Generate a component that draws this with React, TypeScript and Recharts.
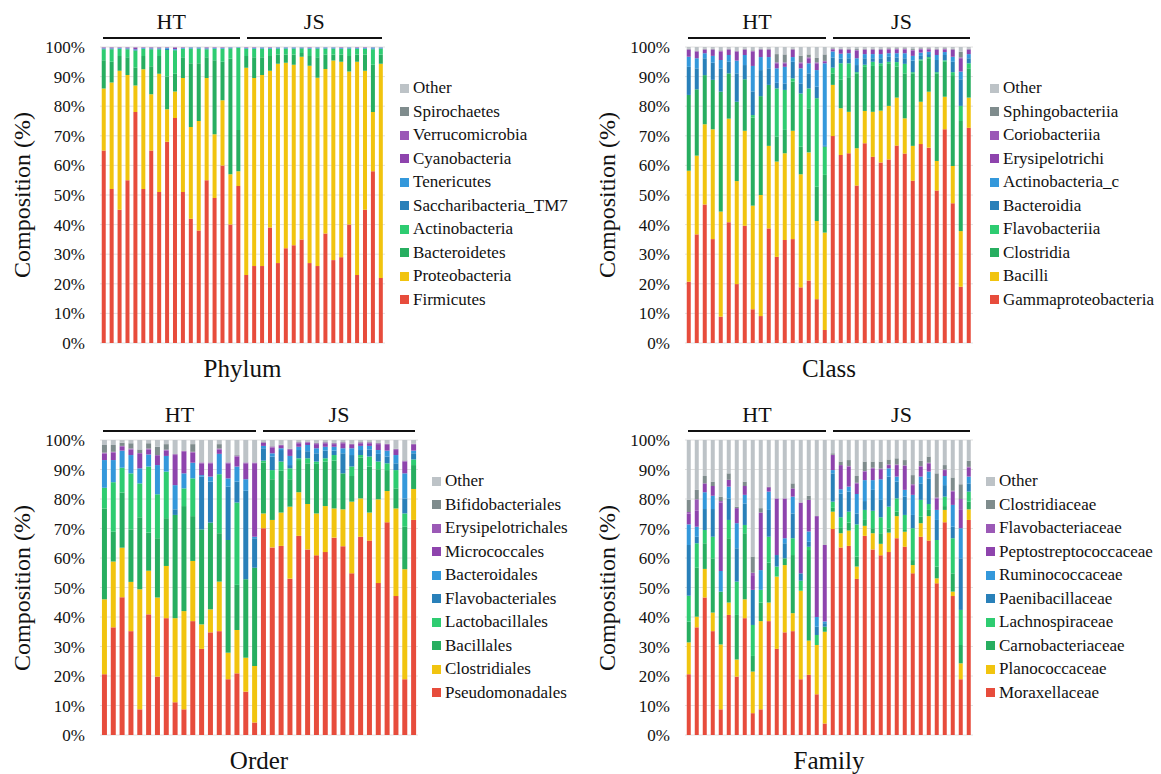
import React from "react";
import { BarChart, Bar, XAxis, YAxis, CartesianGrid } from "recharts";

// sample ids, 18 per site
const samples = [
  "HT1", "HT2", "HT3", "HT4", "HT5", "HT6", "HT7", "HT8", "HT9", "HT10", "HT11", "HT12", "HT13", "HT14", "HT15", "HT16", "HT17", "HT18",
  "JS1", "JS2", "JS3", "JS4", "JS5", "JS6", "JS7", "JS8", "JS9", "JS10", "JS11", "JS12", "JS13", "JS14", "JS15", "JS16", "JS17", "JS18",
];

const palette = ["#E74C3C", "#F1C40F", "#27AE60", "#2ECC71", "#2980B9", "#3498DB", "#8E44AD", "#9B59B6", "#7F8C8D", "#BDC3C7"];

// ---- Phylum: upper edge (%) of each layer, bottom to top
const phylumNames = ["Firmicutes", "Proteobacteria", "Bacteroidetes", "Actinobacteria", "Saccharibacteria_TM7", "Tenericutes", "Cyanobacteria", "Verrucomicrobia", "Spirochaetes", "Other"];
const phyFirmicutes = [65, 52, 45, 55, 78, 52, 65, 51, 68, 76, 51, 42, 38, 55, 49, 60, 40, 53, 23, 26, 26, 39, 27, 32, 33, 35, 27, 26, 37, 28, 29, 40, 23, 45, 58, 22];
const phyProteobacteria = [86, 88, 92, 90.5, 87, 92.5, 84, 91, 79, 85, 89.5, 73, 75, 89.5, 70.5, 82, 57, 58, 93, 89.5, 90.5, 92, 94.3, 94.7, 94, 96.7, 93.7, 89.6, 92.6, 95.4, 95, 91.7, 95, 92, 78, 94.3];
const phyBacteroidetes = [95.5, 95, 97, 96.5, 93, 97, 93.5, 97, 90, 91, 96.5, 94.5, 94.5, 96.5, 95.5, 95, 96, 72, 97, 96.5, 96.5, 97, 97.5, 97.5, 97.5, 98, 97, 96.5, 97.5, 97.5, 97.5, 97, 97.5, 97.5, 94, 97.5];
const phyActinobacteria = [99.2, 99.2, 99.3, 99.2, 98.8, 99.3, 99.2, 99.2, 99.0, 98.9, 99.3, 99.4, 99.4, 99.2, 99.3, 99.3, 99.5, 99.7, 99.3, 99.3, 99.4, 99.3, 99.4, 99.4, 99.4, 99.5, 99.3, 99.4, 99.4, 99.4, 99.3, 99.4, 99.3, 99.3, 99.2, 99.4];
const phySaccharibacteria = [99.4, 99.4, 99.5, 99.4, 99.0, 99.5, 99.4, 99.4, 99.4, 99.1, 99.5, 99.6, 99.6, 99.4, 99.5, 99.5, 99.7, 99.8, 99.5, 99.5, 99.6, 99.5, 99.6, 99.6, 99.6, 99.7, 99.5, 99.6, 99.6, 99.6, 99.5, 99.6, 99.5, 99.5, 99.5, 99.6];
const phyTenericutes = [99.6, 99.6, 99.7, 99.6, 99.2, 99.7, 99.6, 99.6, 99.7, 99.3, 99.7, 99.8, 99.8, 99.6, 99.7, 99.7, 99.8, 99.9, 99.7, 99.7, 99.8, 99.7, 99.8, 99.8, 99.8, 99.8, 99.7, 99.8, 99.8, 99.8, 99.7, 99.8, 99.7, 99.7, 99.8, 99.8];
const phyCyanobacteria = [99.8, 99.8, 99.8, 99.8, 99.8, 99.8, 99.8, 99.8, 99.8, 99.8, 99.8, 99.9, 99.9, 99.8, 99.8, 99.8, 99.9, 99.9, 99.85, 99.85, 99.85, 99.85, 99.85, 99.85, 99.85, 99.85, 99.85, 99.85, 99.85, 99.85, 99.85, 99.85, 99.85, 99.85, 99.9, 99.85];
const phyVerrucomicrobia = [99.9, 99.9, 99.9, 99.9, 99.9, 99.9, 99.9, 99.9, 99.9, 99.9, 99.9, 99.9, 99.9, 99.9, 99.9, 99.9, 99.9, 99.9, 99.9, 99.9, 99.9, 99.9, 99.9, 99.9, 99.9, 99.9, 99.9, 99.9, 99.9, 99.9, 99.9, 99.9, 99.9, 99.9, 99.9, 99.9];
const phySpirochaetes = [99.95, 99.95, 99.95, 99.95, 99.95, 99.95, 99.95, 99.95, 99.95, 99.95, 99.95, 99.95, 99.95, 99.95, 99.95, 99.95, 99.95, 99.95, 99.95, 99.95, 99.95, 99.95, 99.95, 99.95, 99.95, 99.95, 99.95, 99.95, 99.95, 99.95, 99.95, 99.95, 99.95, 99.95, 99.95, 99.95];

// ---- Class
const classNames = ["Gammaproteobacteria", "Bacilli", "Clostridia", "Flavobacteriia", "Bacteroidia", "Actinobacteria_c", "Erysipelotrichi", "Coriobacteriia", "Sphingobacteriia", "Other"];
const clsGamma = [20.7, 36.7, 46.8, 35.1, 8.9, 40.8, 19.9, 39.6, 11.4, 9.1, 38.7, 29.1, 34.8, 35.1, 18.8, 21.1, 14.8, 4.4, 69.9, 63.5, 64.1, 53.2, 67.5, 62.9, 61.0, 62.0, 66.7, 64.0, 54.8, 67.2, 66.0, 51.5, 72.2, 47.2, 19.0, 72.7];
const clsBacilli = [58.2, 63.3, 73.9, 72.2, 44.4, 75.8, 54.7, 71.7, 46.4, 50.0, 66.6, 61.3, 64.1, 71.7, 57.0, 64.4, 41.2, 37.3, 87.2, 79.3, 78.1, 65.8, 78.4, 78.1, 78.5, 80.1, 82.9, 75.9, 66.6, 81.5, 84.9, 61.5, 83.2, 59.8, 37.8, 82.9];
const clsClostridia = [83.8, 85.7, 90.5, 88.9, 84.9, 91.1, 81.5, 89.1, 76.2, 83.4, 87.2, 69.7, 72.0, 88.3, 66.3, 79.3, 52.8, 56.8, 91.1, 88.9, 89.8, 91.1, 93.3, 93.6, 93.6, 94.3, 93.4, 91.1, 91.1, 95.4, 96.2, 91.1, 95.0, 90.5, 75.0, 92.8];
const clsFlavobacteriia = [83.8, 85.7, 90.5, 88.9, 84.9, 91.1, 81.5, 89.1, 77.0, 83.4, 87.2, 86.0, 85.5, 89.4, 84.3, 86.0, 82.7, 66.3, 93.0, 94.5, 94.5, 91.5, 94.0, 95.0, 94.5, 95.0, 94.9, 94.3, 91.5, 95.8, 96.6, 91.5, 95.5, 91.5, 80.1, 94.5];
const clsBacteroidia = [93.3, 92.8, 96.2, 94.7, 92.8, 95.0, 91.1, 93.9, 85.0, 92.2, 92.8, 87.9, 87.7, 95.0, 87.7, 91.1, 86.6, 66.6, 96.5, 96.0, 96.2, 93.9, 96.2, 96.2, 96.2, 96.7, 96.5, 96.2, 95.4, 97.0, 97.6, 95.6, 97.3, 95.0, 89.1, 96.2];
const clsActinobacteria = [96.7, 96.2, 97.9, 97.0, 95.6, 97.3, 95.4, 97.3, 93.6, 96.6, 96.6, 92.8, 93.3, 96.6, 92.8, 94.5, 92.2, 94.5, 98.5, 97.7, 97.9, 96.2, 97.6, 97.6, 97.6, 97.9, 97.9, 97.9, 97.0, 98.1, 98.4, 97.3, 98.3, 96.7, 91.7, 97.6];
const clsErysipelotrichi = [99.0, 98.4, 99.0, 99.0, 98.5, 99.0, 98.4, 99.0, 98.5, 99.0, 99.0, 94.5, 94.5, 99.0, 94.5, 96.2, 94.5, 95.0, 99.2, 99.0, 99.0, 98.8, 99.0, 99.0, 99.0, 99.2, 99.2, 99.2, 98.8, 99.2, 99.2, 99.0, 99.2, 99.0, 96.2, 99.0];
const clsCoriobacteriia = [99.2, 98.6, 99.2, 99.2, 98.7, 99.2, 98.6, 99.2, 98.7, 99.2, 99.2, 94.8, 94.8, 99.2, 94.8, 96.5, 94.8, 95.3, 99.4, 99.2, 99.2, 99.0, 99.2, 99.2, 99.2, 99.4, 99.4, 99.4, 99.0, 99.4, 99.4, 99.2, 99.4, 99.2, 96.5, 99.2];
const clsSphingobacteriia = [99.4, 98.8, 99.4, 99.4, 98.9, 99.4, 98.8, 99.4, 98.9, 99.4, 99.4, 97.6, 97.5, 99.4, 97.1, 97.5, 96.3, 97.5, 99.6, 99.4, 99.4, 99.3, 99.4, 99.4, 99.4, 99.6, 99.6, 99.6, 99.3, 99.6, 99.6, 99.4, 99.6, 99.4, 98.4, 99.4];

// ---- Order
const orderNames = ["Pseudomonadales", "Clostridiales", "Bacillales", "Lactobacillales", "Flavobacteriales", "Bacteroidales", "Micrococcales", "Erysipelotrichales", "Bifidobacteriales", "Other"];
const ordPseudomonadales = [20.6, 36.5, 46.7, 35.2, 8.7, 40.9, 19.8, 39.6, 11.1, 8.7, 38.6, 29.2, 34.8, 35.2, 18.9, 20.9, 14.7, 4.2, 70.1, 63.6, 64.1, 53.0, 67.5, 62.9, 60.9, 62.0, 66.9, 64.0, 54.8, 67.2, 65.9, 51.5, 72.1, 47.1, 18.9, 72.9];
const ordClostridiales = [46.0, 58.8, 63.5, 51.9, 49.4, 55.7, 46.6, 57.3, 39.6, 42.0, 59.0, 37.5, 42.6, 52.0, 27.9, 35.6, 26.2, 23.4, 75.1, 72.9, 75.4, 77.4, 82.3, 78.3, 75.1, 77.6, 76.8, 76.5, 79.1, 80.2, 75.4, 79.9, 82.7, 76.8, 56.2, 83.4];
const ordBacillales = [76.8, 68.9, 82.2, 69.7, 73.8, 68.6, 66.7, 73.5, 74.6, 77.6, 74.2, 69.7, 72.0, 68.4, 66.1, 50.9, 52.8, 56.7, 92.4, 86.7, 89.6, 86.7, 93.2, 92.1, 91.9, 92.7, 93.0, 88.7, 87.8, 94.1, 91.0, 90.1, 89.8, 83.6, 70.6, 91.5];
const ordLactobacillales = [83.8, 85.7, 90.6, 88.7, 85.3, 91.0, 81.6, 89.3, 74.6, 83.6, 87.0, 69.7, 72.0, 88.4, 66.1, 78.8, 52.8, 56.7, 93.0, 89.8, 92.7, 90.4, 93.8, 93.8, 92.7, 93.8, 94.9, 88.7, 91.0, 94.9, 94.4, 92.7, 92.1, 89.8, 75.1, 93.4];
const ordFlavobacteriales = [83.8, 85.7, 90.6, 88.7, 85.3, 91.0, 81.6, 89.3, 76.5, 83.6, 87.0, 87.6, 85.9, 88.4, 84.2, 85.9, 82.8, 66.7, 97.2, 94.4, 96.6, 91.5, 96.6, 96.2, 95.5, 96.4, 96.4, 95.5, 94.9, 96.6, 96.8, 95.3, 94.4, 92.1, 80.2, 95.5];
const ordBacteroidales = [93.2, 93.2, 96.4, 94.9, 90.4, 95.1, 91.5, 94.6, 84.7, 88.7, 92.3, 88.1, 87.6, 95.3, 87.0, 91.0, 86.7, 67.2, 98.0, 95.5, 97.2, 94.6, 97.7, 98.3, 97.2, 97.7, 97.7, 97.2, 97.2, 98.0, 98.0, 96.6, 96.4, 94.9, 88.7, 96.4];
const ordMicrococcales = [95.4, 95.7, 97.7, 96.8, 95.3, 96.8, 94.6, 96.4, 94.9, 96.0, 95.7, 92.1, 92.1, 96.8, 92.1, 94.4, 92.1, 92.1, 99.0, 97.5, 98.0, 96.6, 98.9, 99.1, 98.6, 98.9, 98.6, 98.9, 98.3, 98.9, 98.9, 98.6, 98.3, 96.6, 92.7, 98.3];
const ordErysipelotrichales = [95.7, 96.0, 98.0, 97.1, 95.6, 97.1, 94.9, 96.7, 95.2, 96.3, 96.0, 92.4, 92.4, 97.1, 92.4, 94.7, 92.4, 92.4, 99.2, 97.8, 98.3, 96.9, 99.2, 99.4, 98.9, 99.2, 98.9, 99.2, 98.6, 99.2, 99.2, 98.9, 98.6, 96.9, 93.0, 98.6];
const ordBifidobacteriales = [98.3, 98.3, 99.1, 98.9, 96.8, 98.9, 97.7, 98.6, 95.2, 96.3, 98.6, 92.4, 92.4, 98.6, 92.4, 94.9, 92.4, 92.4, 99.3, 97.9, 98.4, 97.0, 99.3, 99.5, 99.0, 99.3, 99.0, 99.3, 98.7, 99.3, 99.3, 99.0, 98.7, 97.0, 93.1, 98.7];

// ---- Family
const familyNames = ["Moraxellaceae", "Planococcaceae", "Carnobacteriaceae", "Lachnospiraceae", "Paenibacillaceae", "Ruminococcaceae", "Peptostreptococcaceae", "Flavobacteriaceae", "Clostridiaceae", "Other"];
const famMoraxellaceae = [20.6, 36.5, 46.6, 35.2, 8.7, 40.7, 19.8, 39.6, 7.4, 8.7, 38.6, 29.2, 34.8, 35.2, 18.9, 20.4, 13.8, 3.9, 69.8, 63.6, 64.1, 52.9, 67.5, 62.9, 60.9, 62.0, 66.7, 63.8, 54.8, 67.2, 65.9, 51.4, 72.1, 47.1, 18.9, 72.9];
const famPlanococcaceae = [31.4, 40.1, 56.3, 41.5, 30.7, 44.9, 25.6, 46.0, 21.5, 38.6, 44.9, 53.7, 57.6, 41.3, 48.9, 32.0, 30.5, 35.0, 75.7, 68.4, 69.3, 57.1, 70.9, 68.4, 64.8, 68.6, 74.2, 68.9, 57.6, 71.8, 74.2, 53.1, 76.3, 48.6, 24.3, 76.5];
const famCarnobacteriaceae = [38.4, 56.7, 65.0, 59.9, 48.6, 66.7, 40.7, 68.4, 26.8, 44.9, 58.4, 53.7, 59.9, 61.0, 48.9, 62.7, 30.5, 36.7, 77.0, 70.4, 72.0, 60.5, 72.9, 70.1, 68.4, 70.0, 75.7, 69.5, 59.3, 74.0, 76.3, 57.1, 77.6, 54.8, 30.5, 79.1];
const famLachnospiraceae = [47.2, 65.0, 69.5, 67.2, 48.6, 72.9, 52.0, 71.2, 37.3, 49.2, 67.2, 57.1, 59.9, 66.7, 52.3, 63.8, 33.9, 36.7, 79.1, 73.8, 75.7, 71.4, 76.3, 76.0, 73.8, 77.4, 80.2, 74.6, 70.1, 79.7, 78.3, 66.1, 80.8, 66.7, 42.4, 82.5];
const famPaenibacillaceae = [64.4, 67.2, 76.6, 76.6, 48.6, 80.2, 63.3, 78.5, 49.2, 49.2, 76.3, 61.0, 65.0, 75.1, 54.8, 65.5, 36.7, 37.9, 88.7, 81.9, 82.5, 75.1, 79.3, 83.1, 79.7, 87.6, 85.9, 80.8, 74.6, 85.3, 87.0, 72.9, 84.7, 70.6, 59.9, 85.3];
const famRuminococcaceae = [71.4, 70.6, 82.3, 81.1, 55.6, 84.2, 71.8, 81.4, 49.2, 55.9, 82.5, 61.0, 66.7, 80.8, 54.8, 69.0, 40.0, 38.5, 89.8, 83.3, 84.2, 81.7, 86.4, 86.4, 86.7, 90.4, 87.6, 83.1, 81.4, 87.6, 89.3, 76.3, 87.8, 78.0, 70.1, 87.6];
const famPeptostreptococcaceae = [75.1, 76.0, 85.3, 84.4, 78.8, 86.5, 76.9, 84.4, 53.9, 75.4, 84.0, 80.2, 80.2, 83.6, 78.8, 79.7, 74.2, 64.4, 94.9, 91.2, 91.0, 85.3, 89.3, 90.4, 90.1, 91.5, 91.5, 91.2, 84.7, 91.0, 92.1, 80.2, 89.8, 82.5, 76.3, 90.7];
const famFlavobacteriaceae = [75.6, 79.9, 85.3, 84.4, 79.3, 86.5, 76.9, 84.4, 55.0, 75.4, 84.0, 80.2, 80.2, 83.6, 78.8, 79.7, 74.2, 64.4, 95.0, 91.5, 91.2, 85.5, 89.5, 90.6, 90.3, 91.7, 91.7, 91.4, 85.0, 91.2, 92.3, 80.5, 90.0, 82.8, 80.0, 90.9];
const famClostridiaceae = [79.7, 83.1, 87.8, 85.9, 80.8, 88.7, 77.4, 85.9, 60.5, 76.9, 84.2, 80.2, 80.2, 85.3, 78.8, 81.1, 74.2, 64.4, 95.5, 92.7, 93.2, 87.8, 92.7, 92.7, 92.7, 93.4, 93.8, 93.2, 88.1, 93.0, 94.4, 88.7, 91.5, 87.3, 85.0, 93.0];

const yTicks = [0, 10, 20, 30, 40, 50, 60, 70, 80, 90, 100];
const FONT = "'Liberation Serif', 'DejaVu Serif', 'Times New Roman', serif";

// turn the layer edges into stacked segment values, "Other" fills to 100
function buildRows(edges: number[][]) {
  return samples.map((s, i) => {
    const row: Record<string, any> = { sample: s };
    let prev = 0;
    edges.forEach((e, k) => {
      row["s" + k] = Math.max(0, +(e[i] - prev).toFixed(2));
      prev = Math.max(prev, e[i]);
    });
    row["s" + edges.length] = Math.max(0, +(100 - prev).toFixed(2));
    return row;
  });
}

type Layout = {
  x: number; y: number; w: number; h: number;
  plotL: number; plotR: number; plotT: number; plotB: number;
  legendX: number;
};

const Panel = ({ layout, rows, names, caption }: { layout: Layout; rows: any[]; names: string[]; caption: string }) => {
  const { x, y, w, h, plotL, plotR, plotT, plotB, legendX } = layout;
  const half = (plotR - plotL) / 2;
  const midY = (plotT + plotB) / 2;
  const groups = [
    { label: "HT", from: plotL + 3, to: plotL + half - 3 },
    { label: "JS", from: plotL + half + 4, to: plotR - 3 },
  ];
  const legendItems = names.map((n, i) => ({ n, c: palette[i] })).reverse();

  return (
    <>
      <div style={{ position: "absolute", left: x, top: y }}>
        <BarChart
          width={w}
          height={h}
          data={rows}
          margin={{ top: plotT - y, right: x + w - plotR, bottom: y + h - plotB, left: 0 }}
          barCategoryGap="22%"
        >
          <CartesianGrid vertical={false} stroke="#e2e2e2" />
          <XAxis dataKey="sample" hide />
          <YAxis
            width={plotL - x}
            domain={[0, 100]}
            allowDataOverflow
            ticks={yTicks}
            tickFormatter={(v) => v + "%"}
            axisLine={false}
            tickLine={false}
            tickSize={0}
            tickMargin={15}
            tick={{ fill: "#111", fontSize: 17, fontFamily: FONT }}
          />
          {names.map((n, i) => (
            <Bar key={n} dataKey={"s" + i} name={n} stackId="a" fill={palette[i]} isAnimationActive={false} />
          ))}
        </BarChart>
      </div>

      {groups.map((g) => (
        <React.Fragment key={g.label}>
          <div
            style={{
              position: "absolute",
              left: (g.from + g.to) / 2,
              top: plotT - 25,
              transform: "translate(-50%, -50%)",
              fontSize: 22,
              fontFamily: FONT,
              color: "#111",
            }}
          >
            {g.label}
          </div>
          <div
            style={{
              position: "absolute",
              left: g.from,
              top: plotT - 10,
              width: g.to - g.from,
              height: 2,
              background: "#111",
            }}
          />
        </React.Fragment>
      ))}

      <div
        style={{
          position: "absolute",
          left: plotL - 78,
          top: midY,
          transform: "translate(-50%, -50%) rotate(-90deg)",
          whiteSpace: "nowrap",
          fontSize: 24,
          fontFamily: FONT,
          color: "#111",
        }}
      >
        Composition (%)
      </div>

      <div
        style={{
          position: "absolute",
          left: (plotL + plotR) / 2,
          top: plotB + 26,
          transform: "translate(-50%, -50%)",
          fontSize: 25,
          fontFamily: FONT,
          color: "#111",
        }}
      >
        {caption}
      </div>

      {legendItems.map((it, i) => (
        <div
          key={it.n}
          style={{
            position: "absolute",
            left: legendX,
            top: plotT + 41 + i * 23.55 - 10,
            height: 20,
            display: "flex",
            alignItems: "center",
            whiteSpace: "nowrap",
            fontSize: 17,
            fontFamily: FONT,
            color: "#111",
          }}
        >
          <span style={{ display: "inline-block", width: 9, height: 9, background: it.c, marginRight: 4 }} />
          {it.n}
        </div>
      ))}
    </>
  );
};

const App = () => {
  const phylumRows = buildRows([phyFirmicutes, phyProteobacteria, phyBacteroidetes, phyActinobacteria, phySaccharibacteria, phyTenericutes, phyCyanobacteria, phyVerrucomicrobia, phySpirochaetes]);
  const classRows = buildRows([clsGamma, clsBacilli, clsClostridia, clsFlavobacteriia, clsBacteroidia, clsActinobacteria, clsErysipelotrichi, clsCoriobacteriia, clsSphingobacteriia]);
  const orderRows = buildRows([ordPseudomonadales, ordClostridiales, ordBacillales, ordLactobacillales, ordFlavobacteriales, ordBacteroidales, ordMicrococcales, ordErysipelotrichales, ordBifidobacteriales]);
  const familyRows = buildRows([famMoraxellaceae, famPlanococcaceae, famCarnobacteriaceae, famLachnospiraceae, famPaenibacillaceae, famRuminococcaceae, famPeptostreptococcaceae, famFlavobacteriaceae, famClostridiaceae]);

  return (
    <div style={{ position: "absolute", left: 0, top: 0, width: 1161, height: 774, background: "#fff", fontFamily: FONT }}>
      <Panel
        layout={{ x: 0, y: 0, w: 580, h: 390, plotL: 100, plotR: 385, plotT: 47, plotB: 343, legendX: 400 }}
        rows={phylumRows}
        names={phylumNames}
        caption="Phylum"
      />
      <Panel
        layout={{ x: 585, y: 0, w: 576, h: 390, plotL: 685, plotR: 973, plotT: 47, plotB: 343, legendX: 990 }}
        rows={classRows}
        names={classNames}
        caption="Class"
      />
      <Panel
        layout={{ x: 0, y: 393, w: 580, h: 381, plotL: 100, plotR: 418, plotT: 440, plotB: 735, legendX: 432 }}
        rows={orderRows}
        names={orderNames}
        caption="Order"
      />
      <Panel
        layout={{ x: 585, y: 393, w: 576, h: 381, plotL: 685, plotR: 973, plotT: 440, plotB: 735, legendX: 986 }}
        rows={familyRows}
        names={familyNames}
        caption="Family"
      />
    </div>
  );
};

export default App;
